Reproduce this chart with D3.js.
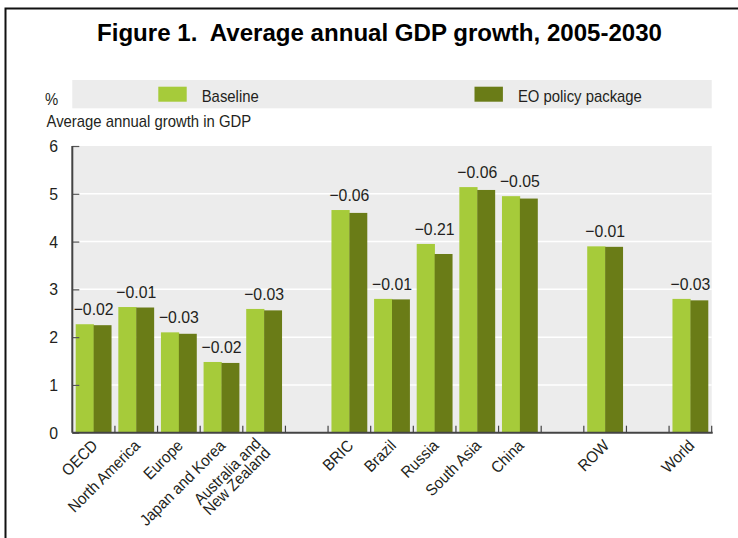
<!DOCTYPE html>
<html>
<head>
<meta charset="utf-8">
<script src="https://cdn.jsdelivr.net/npm/d3@7"></script>
<style>
  html, body { margin: 0; padding: 0; background: #fff; }
  svg { display: block; }
  .nar { font-family: "Liberation Sans", Arial, sans-serif; fill: #231f20; }
</style>
</head>
<body>
<svg id="chart" width="738" height="538"></svg>
<script>
// ---- data ----
const slots = ["OECD", "North America", "Europe", "Japan and Korea", "Australia and|New Zealand", "",
               "BRIC", "Brazil", "Russia", "South Asia", "China", "", "ROW", "", "World"];
const categories = ["OECD", "North America", "Europe", "Japan and Korea", "Australia and|New Zealand",
                    "BRIC", "Brazil", "Russia", "South Asia", "China", "ROW", "World"];
const baseline = [2.27, 2.63, 2.10, 1.48, 2.59, 4.66, 2.80, 3.95, 5.14, 4.95, 3.90, 2.80];
const policy   = [2.25, 2.62, 2.07, 1.46, 2.56, 4.60, 2.79, 3.74, 5.08, 4.90, 3.89, 2.77];
const diffLabels = ["\u22120.02", "\u22120.01", "\u22120.03", "\u22120.02", "\u22120.03",
                    "\u22120.06", "\u22120.01", "\u22120.21", "\u22120.06", "\u22120.05", "\u22120.01", "\u22120.03"];
const yTicks = [0, 1, 2, 3, 4, 5, 6];
const seriesNames = ["Baseline", "EO policy package"];
const colors = ["#a6cb3a", "#6a7c17"];

// ---- layout ----
const svg = d3.select("#chart");
const L = 72.3, R = 711.7, T = 146, B = 432.7;
const SX = 0.93;

function ntext(parent, x, y, size, anchor, str, extra) {
  const t = parent.append("text").attr("class", "nar")
    .attr("transform", `translate(${x},${y}) ${extra || ""} scale(${SX},1)`)
    .attr("font-size", size).attr("text-anchor", anchor || "start");
  if (str !== undefined) t.text(str);
  return t;
}

// frame
svg.append("path").attr("d", "M5.5,538 V8.5 H738").attr("fill", "none").attr("stroke", "#111").attr("stroke-width", 2);

// title
svg.append("text").attr("x", 97).attr("y", 40.5)
  .attr("font-family", "Liberation Sans, Arial, sans-serif").attr("font-weight", "bold")
  .attr("font-size", 23).attr("fill", "#000").style("white-space", "pre")
  .attr("textLength", 565).attr("lengthAdjust", "spacingAndGlyphs")
  .text("Figure 1.  Average annual GDP growth, 2005-2030");

// legend band
svg.append("rect").attr("x", L).attr("y", 80).attr("width", R - L).attr("height", 28.3).attr("fill", "#ececec");
ntext(svg, 45, 104.5, 16, "start", "%");
const legX = [158.3, 474.5];
seriesNames.forEach((n, i) => {
  svg.append("rect").attr("x", legX[i]).attr("y", 86.7).attr("width", 28.4).attr("height", 15).attr("fill", colors[i]);
  ntext(svg, legX[i] + 43.4, 101.5, 16, "start", n);
});
ntext(svg, 46.5, 127, 16, "start", "Average annual growth in GDP");

// scales
const x = d3.scaleBand().domain(d3.range(slots.length)).range([L, R]).padding(0);
const y = d3.scaleLinear().domain([0, 6]).range([B, T]);
const slotOf = categories.map(c => slots.indexOf(c));

// plot background
svg.append("rect").attr("x", L).attr("y", T).attr("width", R - L).attr("height", B - T).attr("fill", "#ececec");
// gridlines
svg.append("g").selectAll("line").data(yTicks.filter(t => t > 0 && t < 6)).join("line")
  .attr("x1", L).attr("x2", R).attr("y1", d => y(d)).attr("y2", d => y(d))
  .attr("stroke", "#fff").attr("stroke-width", 1.5);

// bars
const inner = d3.scaleBand().domain([0, 1]).range([3.4, x.bandwidth() - 3.4]).padding(0);
const g = svg.append("g");
categories.forEach((c, i) => {
  const x0 = x(slotOf[i]);
  [baseline[i], policy[i]].forEach((v, s) => {
    g.append("rect").attr("x", x0 + inner(s)).attr("width", inner.bandwidth() + (s === 0 ? 0.3 : 0))
      .attr("y", y(v)).attr("height", y(0) - y(v)).attr("fill", colors[s]);
  });
  ntext(g, x0 + x.bandwidth() / 2, y(Math.max(baseline[i], policy[i])) - 9, 17, "middle", diffLabels[i])
    .attr("fill", "#333");
});

// y axis
const yAxis = svg.append("g").attr("transform", `translate(${L},0)`)
  .call(d3.axisRight(y).tickValues(yTicks).tickSize(7).tickFormat(""));
yAxis.select(".domain").remove();
yAxis.selectAll(".tick line").attr("stroke", "#555").attr("stroke-width", 1.2);
svg.append("line").attr("x1", L).attr("x2", L).attr("y1", T).attr("y2", B).attr("stroke", "#444").attr("stroke-width", 2);
yTicks.forEach(d => ntext(svg, 58, y(d) + 6, 17, "end", d));

// x axis
svg.append("line").attr("x1", L).attr("x2", R + 1).attr("y1", B).attr("y2", B).attr("stroke", "#444").attr("stroke-width", 2);
const bounds = d3.range(1, slots.length + 1).map(k => L + k * x.step());
svg.append("g").selectAll("line").data(bounds).join("line")
  .attr("x1", d => d).attr("x2", d => d).attr("y1", B - 7).attr("y2", B)
  .attr("stroke", "#444").attr("stroke-width", 1.2);

// x labels
categories.forEach((c, i) => {
  const lines = c.split("|");
  const cx = x(slotOf[i]) + x.bandwidth() / 2 + (lines.length > 1 ? -4 : 1);
  const t = ntext(svg, cx, B + 10, 16, "end", undefined, "rotate(-45)");
  lines.forEach((ln, k) => {
    const dy = lines.length === 1 ? "0.35em" : (k === 0 ? "0.15em" : "0.85em");
    t.append("tspan").attr("x", 0).attr("dy", dy).text(ln);
  });
});
</script>
</body>
</html>
